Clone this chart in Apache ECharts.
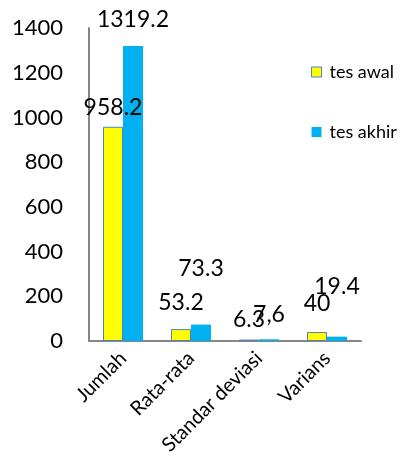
<!DOCTYPE html>
<html>
<head>
<meta charset="utf-8">
<script src="https://cdn.jsdelivr.net/npm/echarts@6/dist/echarts.min.js"></script>
<style>
	html, body {margin: 0; padding: 0; background: #fff;}
	#chart {width: 400px; height: 466px;}
</style>
</head>
<body>
<div id="chart"></div>
<script>
	var categories = ['Jumlah', 'Rata-rata', 'Standar deviasi', 'Varians'];
	var seriesNames = ['tes awal', 'tes akhir'];
	var tesAwal = [958.2, 53.2, 6.3, 40];
	var tesAkhir = [1319.2, 73.3, 7.6, 19.4];
	var tesAwalText = ['958.2', '53.2', '6.3', '40'];
	var tesAkhirText = ['1319.2', '73.3', '7,6', '19.4'];
	var yTicks = [0, 200, 400, 600, 800, 1000, 1200, 1400];

	// jarak label dari puncak batang (mengikuti gambar asli)
	var awalLift = [8, 15, 9, 17];
	var akhirLift = [15, 45, 13, 39];

	var font = 'Lato';

	function makeData(values, texts, lifts) {
		return values.map(function (v, i) {
			return {
				value: v,
				label: {
					distance: lifts[i],
					formatter: texts[i]
				}
			};
		});
	}

	var chart = echarts.init(document.getElementById('chart'));
	chart.setOption({
		animation: false,
		color: ['#ffff00', '#00b0f0'],
		grid: {
			left: 89,
			right: 39,
			top: 28,
			bottom: 125,
			containLabel: false
		},
		legend: {
			orient: 'vertical',
			left: 306,
			top: 58,
			itemWidth: 10,
			itemHeight: 10,
			itemGap: 42,
			icon: 'rect',
			textStyle: {
				fontFamily: font,
				fontSize: 18,
				color: '#000',
				padding: [0, 0, 0, 3]
			},
			data: [
				{name: seriesNames[0], itemStyle: {borderColor: '#4f81bd', borderWidth: 1}},
				{name: seriesNames[1]}
			]
		},
		xAxis: {
			type: 'category',
			data: categories,
			axisTick: {show: false},
			axisLine: {lineStyle: {color: '#868686', width: 2}},
			axisLabel: {
				rotate: 45,
				interval: 0,
				margin: 14,
				color: '#000',
				fontFamily: font,
				fontSize: 20
			}
		},
		yAxis: {
			type: 'value',
			min: yTicks[0],
			max: yTicks[yTicks.length - 1],
			interval: 200,
			axisTick: {show: false},
			axisLine: {show: true, lineStyle: {color: '#868686', width: 2}},
			splitLine: {show: false},
			axisLabel: {
				margin: 26,
				color: '#000',
				fontFamily: font,
				fontSize: 22,
				formatter: function (v) { return String(v); }
			}
		},
		series: [
			{
				name: seriesNames[0],
				type: 'bar',
				barWidth: 20,
				barGap: '0%',
				itemStyle: {borderColor: '#4f81bd', borderWidth: 1},
				label: {
					show: true,
					position: 'top',
					color: '#000',
					fontFamily: font,
					fontSize: 23
				},
				data: makeData(tesAwal, tesAwalText, awalLift)
			},
			{
				name: seriesNames[1],
				type: 'bar',
				barWidth: 20,
				barGap: '0%',
				label: {
					show: true,
					position: 'top',
					color: '#000',
					fontFamily: font,
					fontSize: 23
				},
				data: makeData(tesAkhir, tesAkhirText, akhirLift)
			}
		]
	});
</script>
</body>
</html>
